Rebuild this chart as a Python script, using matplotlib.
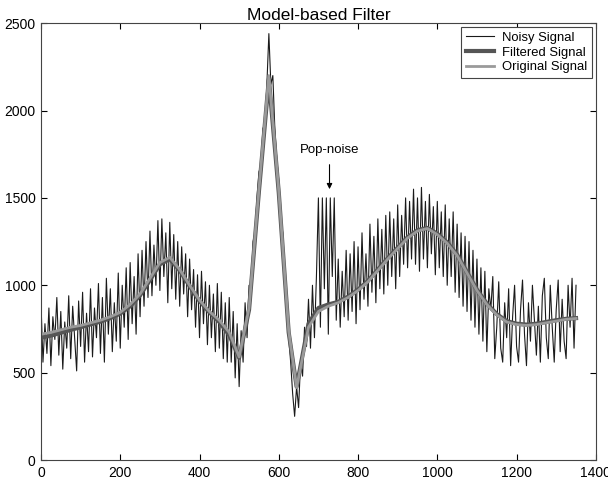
import numpy as np
import matplotlib
matplotlib.use("Agg")
import matplotlib.pyplot as plt

plt.rcParams['font.family'] = ['Liberation Sans', 'DejaVu Sans']

# original (clean) signal, read at key samples
orig_x = [0, 25, 50, 75, 100, 125, 150, 175, 200, 225, 250, 275, 300, 325, 350,
          375, 400, 425, 450, 475, 500, 525, 550, 575, 600, 625, 645, 675, 700,
          725, 750, 775, 800, 825, 850, 875, 900, 925, 950, 975, 1000, 1025,
          1050, 1075, 1100, 1125, 1150, 1175, 1200, 1225, 1250, 1275, 1300,
          1325, 1350]
orig_y = [720, 730, 745, 760, 770, 785, 800, 820, 845, 890, 950, 1040, 1130, 1160, 1090,
          1000, 915, 850, 800, 730, 590, 870, 1550, 2200, 1540, 740, 415, 760, 850,
          880, 900, 930, 970, 1020, 1085, 1150, 1210, 1270, 1310, 1325, 1290, 1240,
          1170, 1070, 970, 890, 830, 790, 775, 770, 775, 785, 795,
          805, 810]

# filtered signal, slightly off the original
filt_y = [700, 712, 728, 745, 760, 776, 792, 812, 838, 880, 942, 1030, 1120, 1150, 1085,
          995, 910, 845, 790, 715, 585, 860, 1540, 2180, 1530, 730, 420, 780, 870,
          890, 905, 935, 975, 1025, 1090, 1155, 1215, 1275, 1315, 1328, 1295, 1245,
          1175, 1075, 975, 895, 835, 795, 780, 775, 780, 790, 800,
          808, 812]

# noisy signal, every 5th sample, pop-noise burst at 700-745
noisy_y = [
    900, 560, 780, 610, 870, 540, 820, 690, 930, 600,
    850, 520, 790, 640, 940, 580, 880, 700, 510, 910,
    650, 960, 560, 840, 620, 980, 590, 870, 700, 1010,
    610, 930, 560, 1040, 720, 980, 620, 900, 680, 1070,
    640, 1000, 760, 1100, 690, 1130, 780, 1050, 720, 1180,
    820, 1200, 880, 1250, 930, 1310, 940, 1230, 1000, 1370,
    970, 1380, 1050, 1300, 900, 1360, 980, 1290, 920, 1250,
    880, 1220, 950, 1180, 820, 1150, 860, 1090, 760, 1060,
    700, 1080, 780, 1020, 660, 1000, 700, 950, 620, 1010,
    640, 960, 580, 900, 560, 930, 560, 850, 470, 780,
    420, 740, 560, 900, 700, 1000, 960, 1250, 1300, 1500,
    1650, 1680, 1900, 1880, 2150, 2440, 2150, 2200, 1900, 1720,
    1600, 1380, 1300, 1000, 950, 700, 560, 380, 250, 420,
    300, 560, 480, 760, 650, 920, 640, 1000, 700, 1050,
    1500, 760, 1500, 980, 1500, 720, 1500, 1050, 1500, 800,
    1150, 760, 1080, 820, 1200, 800, 1180, 850, 1250, 780,
    1220, 860, 1300, 920, 1180, 880, 1350, 960, 1280, 900,
    1380, 980, 1320, 950, 1400, 1000, 1420, 1050, 1380, 980,
    1460, 1050, 1400, 1120, 1500, 1100, 1480, 1150, 1550, 1120,
    1500, 1080, 1560, 1150, 1480, 1100, 1520, 1180, 1450, 1060,
    1480, 1100, 1420, 1050, 1460, 1000, 1380, 1050, 1420, 960,
    1350, 930, 1300, 880, 1280, 850, 1250, 800, 1200, 760,
    1150, 720, 1100, 680, 1080, 620, 980, 860, 1050, 580,
    760, 1020, 640, 560, 900, 700, 980, 540, 820, 1000,
    650, 560, 860, 1030, 720, 540, 900, 680, 1000, 800,
    600, 880, 560, 940, 1040, 700, 580, 1000, 760, 560,
    860, 1030, 620, 920, 680, 580, 1000, 760, 1040, 640,
    1000]
noisy_x = np.arange(len(noisy_y)) * 5

x_ticks = [0, 200, 400, 600, 800, 1000, 1200, 1400]
y_ticks = [0, 500, 1000, 1500, 2000, 2500]

fig = plt.figure(figsize=(6.08, 4.82), dpi=100)
ax = fig.add_axes([0.0674, 0.0456, 0.9126, 0.9064])

ax.plot(noisy_x, noisy_y, color='#1a1a1a', lw=0.8, label='Noisy Signal')
ax.plot(orig_x, filt_y, color='#555555', lw=3.0, label='Filtered Signal')
ax.plot(orig_x, orig_y, color='#9a9a9a', lw=2.0, label='Original Signal')

# pop-noise label and arrow
ax.text(728, 1740, 'Pop-noise', ha='center', va='bottom', fontsize=9.5)
ax.annotate('', xy=(728, 1550), xytext=(728, 1690),
            arrowprops=dict(arrowstyle='-|>', color='black', lw=0.8,
                            mutation_scale=8, shrinkA=0, shrinkB=0))

ax.set_xlim(0, 1400)
ax.set_ylim(0, 2500)
ax.set_xticks(x_ticks)
ax.set_yticks(y_ticks)
ax.tick_params(direction='in', top=True, right=True, labelsize=10, length=4, pad=4)
for s in ax.spines.values():
    s.set_color('#444444')
    s.set_linewidth(0.8)

ax.set_title('Model-based Filter', fontsize=12.5, pad=2)
leg = ax.legend(loc='upper right', fontsize=9.4, fancybox=False, edgecolor='#444444',
                framealpha=1, handlelength=2.2, borderpad=0.35, labelspacing=0.2,
                borderaxespad=0.3, handletextpad=0.6)
leg.get_frame().set_linewidth(0.8)

fig.savefig('out.png', dpi=100)
